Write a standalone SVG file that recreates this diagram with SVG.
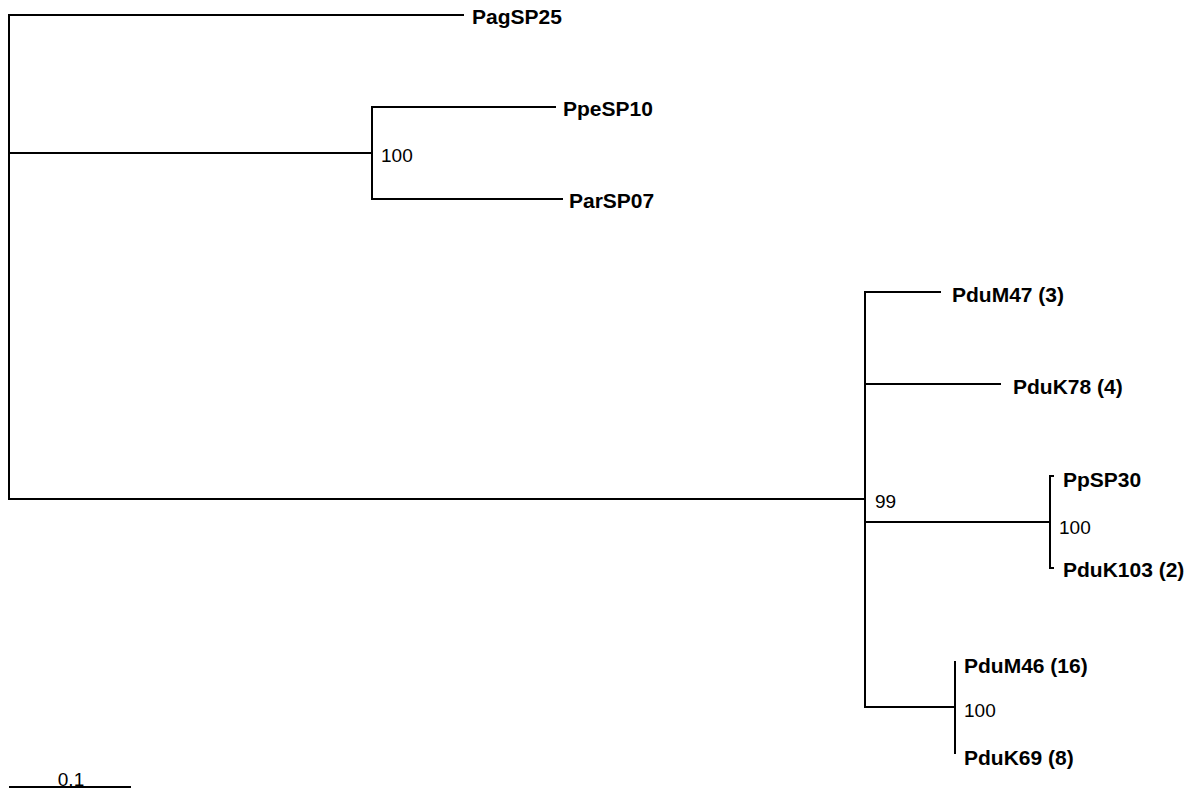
<svg xmlns="http://www.w3.org/2000/svg" width="1190" height="791" viewBox="0 0 1190 791">
<style>
.b{stroke:#000;stroke-width:2;fill:none;stroke-linecap:square}
.t{font-family:"Liberation Sans",Arial,sans-serif;font-weight:bold;font-size:21px;fill:#000}
.n{font-family:"Liberation Sans",Arial,sans-serif;font-size:19px;fill:#000}
</style>
<rect width="1190" height="791" fill="#fff"/>
<g id="connectors">
<path class="b" d="M9,15 V499"/>
<path class="b" d="M9,15 H463"/>
<path class="b" d="M9,153 H372"/>
<path class="b" d="M372,107 V199"/>
<path class="b" d="M372,107 H555"/>
<path class="b" d="M372,199 H562"/>
<path class="b" d="M9,499 H865"/>
<path class="b" d="M865,292 V707"/>
<path class="b" d="M865,292 H940"/>
<path class="b" d="M865,384 H1000"/>
<path class="b" d="M865,522 H1050"/>
<path class="b" d="M1050,476 V568"/>
<path class="b" d="M1050,476 H1053"/>
<path class="b" d="M1050,568 H1053"/>
<path class="b" d="M865,707 H955"/>
<path class="b" d="M955,662 V753"/>
</g>
<g id="PagSP25"><text class="t" x="472" y="24">PagSP25</text></g>
<g id="PpeSP10"><text class="t" x="563" y="116">PpeSP10</text></g>
<g id="ParSP07"><text class="t" x="569" y="208">ParSP07</text></g>
<g id="PduM47"><text class="t" x="952" y="302">PduM47 (3)</text></g>
<g id="PduK78"><text class="t" x="1013" y="394">PduK78 (4)</text></g>
<g id="PpSP30"><text class="t" x="1063" y="487">PpSP30</text></g>
<g id="PduK103"><text class="t" x="1063" y="577">PduK103 (2)</text></g>
<g id="PduM46"><text class="t" x="964" y="673">PduM46 (16)</text></g>
<g id="PduK69"><text class="t" x="964" y="765">PduK69 (8)</text></g>
<g id="support">
<text class="n" x="381" y="162">100</text>
<text class="n" x="875" y="508">99</text>
<text class="n" x="1059" y="534">100</text>
<text class="n" x="964" y="717">100</text>
</g>
<g id="scalebar">
<path class="b" d="M10,787 H130"/>
<text class="n" x="71" y="786" text-anchor="middle">0.1</text>
</g>
</svg>
